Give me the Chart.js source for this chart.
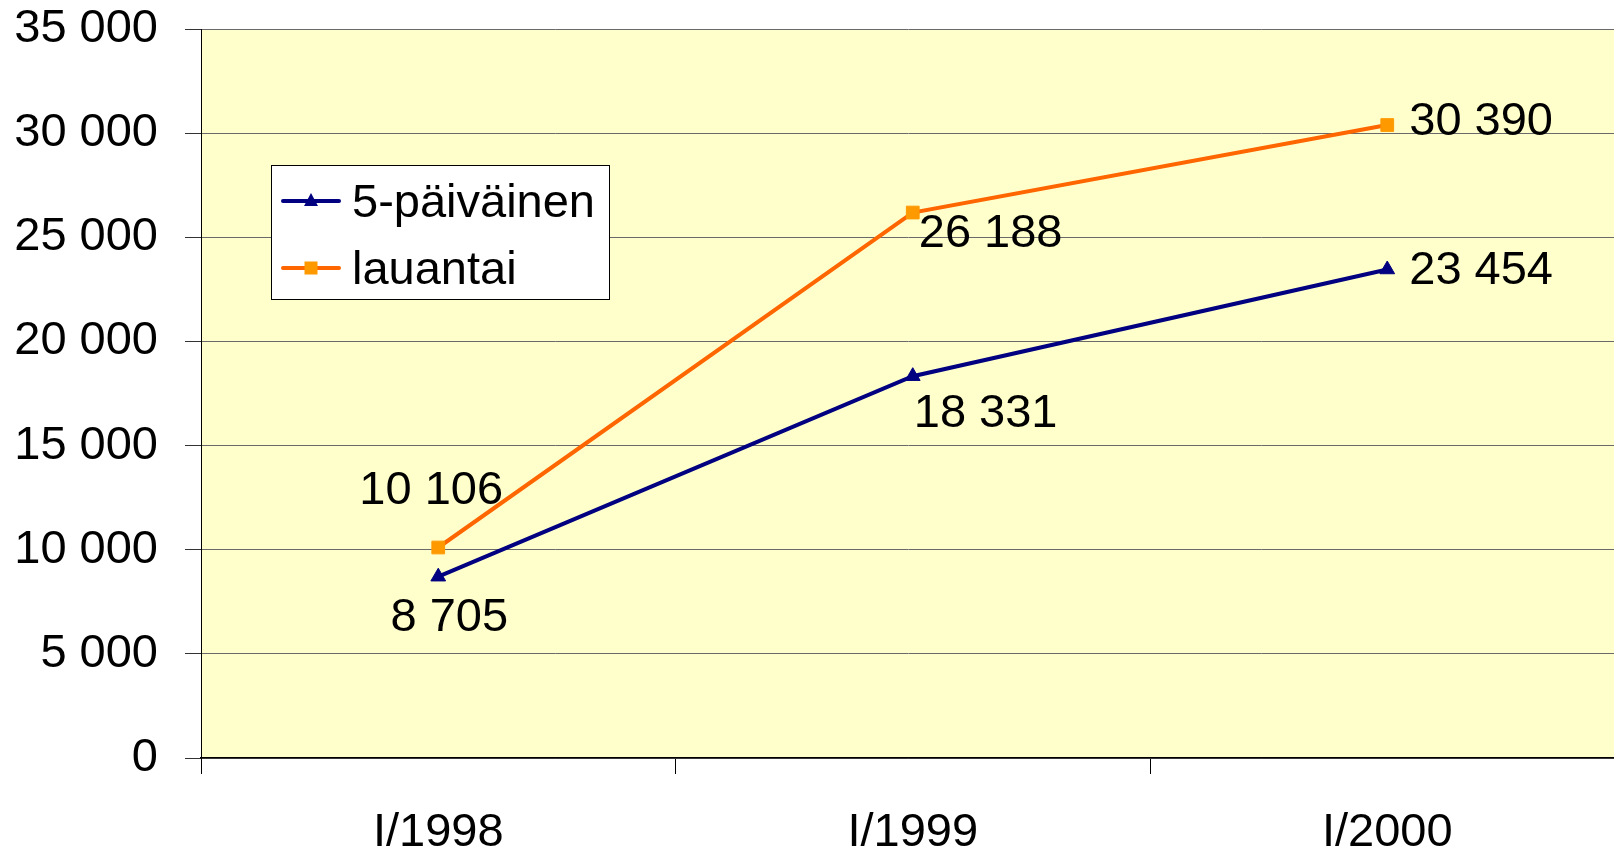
<!DOCTYPE html>
<html><head><meta charset="utf-8">
<script src="https://cdn.jsdelivr.net/npm/chart.js@4"></script>
<style>
html,body{margin:0;padding:0;overflow:hidden;background:#fff;width:1614px;height:853px}
#c{display:block}
</style>
</head><body>
<canvas id="c" width="1614" height="853"></canvas>
<script>
const categories = ['I/1998', 'I/1999', 'I/2000'];
const seriesNames = ['5-päiväinen', 'lauantai'];
const fivePaivainen = [8705, 18331, 23454];
const lauantai = [10106, 26188, 30390];
const yMin = 0, yMax = 35000, yStep = 5000;

const FONT = '"Liberation Sans", Arial, sans-serif';
const FS = 47;
const fmt = v => String(v).replace(/\B(?=(\d{3})+(?!\d))/g, ' ');

// the reference's plot area runs a little past the right edge of the picture
const extendPlot = {
  id: 'extendPlot',
  afterLayout(chart, args, opts) {
    const a = chart.chartArea;
    a.right = opts.right;
    a.width = a.right - a.left;
    const x = chart.scales.x;
    x.right = opts.right;
    x.width = x.right - x.left;
    x.configure();
    const y = chart.scales.y;
    y.configure();
  }
};

const plotBg = {
  id: 'plotBg',
  beforeDraw(chart) {
    const {ctx, chartArea: a} = chart;
    ctx.save();
    ctx.fillStyle = '#FFFFCC';
    ctx.fillRect(a.left, a.top, a.right - a.left, a.bottom - a.top);
    ctx.restore();
  }
};

const dataLabels = {
  id: 'dataLabels',
  afterDatasetsDraw(chart, args, opts) {
    const ctx = chart.ctx;
    ctx.save();
    ctx.font = FS + 'px ' + FONT;
    ctx.fillStyle = '#000';
    ctx.textBaseline = 'alphabetic';
    chart.data.datasets.forEach((ds, i) => {
      const meta = chart.getDatasetMeta(i);
      meta.data.forEach((pt, j) => {
        const p = opts.placement[i][j];
        ctx.textAlign = p.align;
        ctx.fillText(fmt(ds.data[j]), pt.x + p.dx, pt.y + p.dy);
      });
    });
    ctx.restore();
  }
};

const innerLegend = {
  id: 'innerLegend',
  afterDraw(chart, args, opts) {
    const ctx = chart.ctx;
    const b = opts.box;
    ctx.save();
    ctx.fillStyle = '#fff';
    ctx.fillRect(b.x, b.y, b.w, b.h);
    ctx.strokeStyle = '#000';
    ctx.lineWidth = 1;
    ctx.strokeRect(b.x + 0.5, b.y + 0.5, b.w, b.h);
    chart.data.datasets.forEach((ds, i) => {
      const ly = b.y + opts.firstLine + i * opts.rowGap;
      ctx.strokeStyle = ds.borderColor;
      ctx.lineWidth = 4;
      ctx.lineCap = 'round';
      ctx.beginPath();
      ctx.moveTo(b.x + 12, ly);
      ctx.lineTo(b.x + 68, ly);
      ctx.stroke();
      const cx = b.x + 40;
      ctx.fillStyle = ds.pointBackgroundColor;
      if (ds.pointStyle === 'triangle') {
        ctx.beginPath();
        ctx.moveTo(cx, ly - 8);
        ctx.lineTo(cx + 7, ly + 5);
        ctx.lineTo(cx - 7, ly + 5);
        ctx.closePath();
        ctx.fill();
      } else {
        ctx.fillRect(cx - 6.5, ly - 6.5, 13, 13);
      }
      ctx.fillStyle = '#000';
      ctx.font = FS + 'px ' + FONT;
      ctx.textAlign = 'left';
      ctx.textBaseline = 'alphabetic';
      ctx.fillText(ds.label, b.x + 81, ly + 16);
    });
    ctx.restore();
  }
};

new Chart(document.getElementById('c'), {
  type: 'line',
  data: {
    labels: categories,
    datasets: [
      {
        label: seriesNames[0], data: fivePaivainen,
        borderColor: '#000080', backgroundColor: '#000080',
        pointBackgroundColor: '#000080', pointBorderColor: '#000080',
        pointStyle: 'triangle', pointRadius: 8.5, pointBorderWidth: 1,
        borderWidth: 4, tension: 0, fill: false
      },
      {
        label: seriesNames[1], data: lauantai,
        borderColor: '#FF6600', backgroundColor: '#FF9900',
        pointBackgroundColor: '#FF9900', pointBorderColor: '#FF9900',
        pointStyle: 'rect', pointRadius: 9, pointBorderWidth: 1,
        borderWidth: 4, tension: 0, fill: false
      }
    ]
  },
  options: {
    responsive: false,
    animation: false,
    devicePixelRatio: 1,
    layout: {padding: {top: 29, left: 0, right: 0, bottom: 0}},
    plugins: {
      legend: {display: false},
      tooltip: {enabled: false},
      extendPlot: {right: 1624.5},
      dataLabels: {
        placement: [
          [{dx: 11, dy: 54, align: 'center'}, {dx: 1, dy: 51, align: 'left'}, {dx: 22, dy: 15, align: 'left'}],
          [{dx: -7, dy: -44, align: 'center'}, {dx: 6, dy: 34, align: 'left'}, {dx: 22, dy: 10, align: 'left'}]
        ]
      },
      innerLegend: {box: {x: 271, y: 165, w: 338, h: 134}, firstLine: 36, rowGap: 67}
    },
    scales: {
      x: {
        type: 'category',
        offset: true,
        afterFit(s) { s.height = 95; s.paddingLeft = 0; s.paddingRight = 0; },
        grid: {display: true, drawOnChartArea: false, drawTicks: true, tickLength: 16, color: '#000', offset: true},
        border: {display: true, color: '#000', width: 1.5},
        ticks: {color: '#000', font: {family: FONT, size: FS}, padding: 31, maxRotation: 0, autoSkip: false}
      },
      y: {
        min: yMin, max: yMax,
        afterFit(s) { s.width = 201; s.paddingTop = 0; s.paddingBottom = 0; },
        grid: {color: '#6a6a6a', lineWidth: 1, drawTicks: true, tickLength: 16, tickColor: '#333'},
        border: {display: true, color: '#000', width: 1},
        ticks: {stepSize: yStep, color: '#000', font: {family: FONT, size: FS}, padding: 27, callback: v => fmt(v)}
      }
    }
  },
  plugins: [extendPlot, plotBg, dataLabels, innerLegend]
});
</script>
</body></html>
